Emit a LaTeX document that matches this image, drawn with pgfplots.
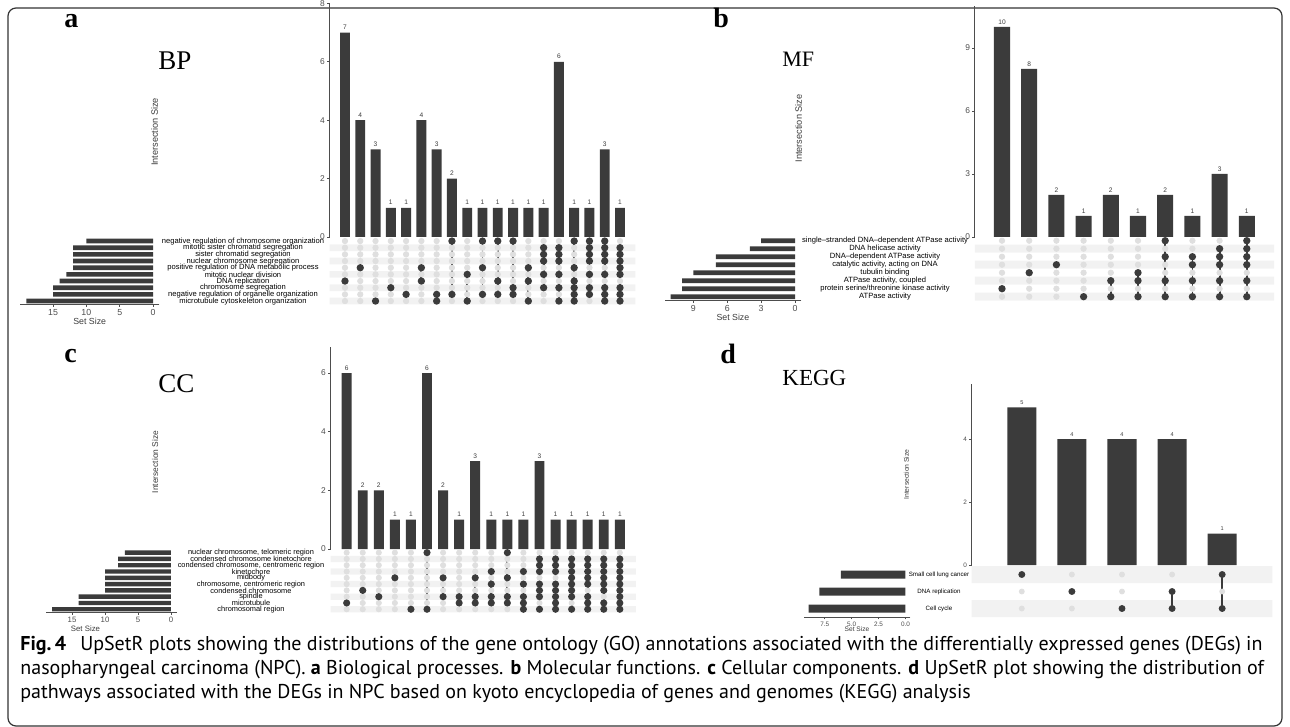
\documentclass[border=0pt]{standalone}
\usepackage{pgfplots}
\pgfplotsset{compat=1.18}
\usepackage{fontspec}
\setmainfont{Liberation Sans}
\newfontfamily\capfont{PT Sans}
\newfontfamily\titlefont{Liberation Serif}
\definecolor{dark}{HTML}{3B3B3B}
\definecolor{ticklab}{HTML}{4D4D4D}
\definecolor{lightdot}{HTML}{DFDFDF}
\definecolor{stripe}{HTML}{F2F2F2}
\definecolor{framecol}{HTML}{333333}
\newcommand{\fs}[1]{\fontsize{#1}{#1}\selectfont}
\pgfplotsset{
  barax/.style={
    scale only axis, ybar, ymin=0, xmin=0,
    axis x line=none, axis y line*=left,
    axis line style={draw=ticklab, line width=0.35pt},
    tick align=outside, major tick length=1.2pt,
    ytick style={draw=ticklab, line width=0.35pt},
    /pgf/number format/assume math mode=true,
    yticklabel style={font=\fs{4.2}, text=ticklab, inner sep=1pt},
    ylabel={Intersection Size},
    ylabel style={font=\fs{4.6}, text=dark, anchor=center},
    nodes near coords,
    nodes near coords style={font=\fs{3.3}, text=dark, inner sep=1.2pt},
    clip=false,
  },
  matax/.style={
    scale only axis, xmin=0, ymin=0.5,
    axis line style={draw=none}, major tick length=0pt, tick style={draw=none},
    xtick=\empty,
    yticklabel style={anchor=center, inner sep=0pt, text=black},
    clip=false,
  },
  setax/.style={
    scale only axis, xbar, x dir=reverse, ymin=0.5,
    axis x line*=bottom, axis y line=none,
    axis line style={draw=ticklab, line width=0.35pt},
    tick align=outside, major tick length=1.2pt,
    xtick style={draw=ticklab, line width=0.35pt},
    /pgf/number format/assume math mode=true,
    xticklabel style={font=\fs{4.4}, text=ticklab, inner sep=1pt},
    xlabel={Set Size},
    xlabel style={font=\fs{4.4}, text=dark, inner sep=0pt},
    ytick=\empty,
  },
  lightdots/.style={only marks, mark=*, mark size=#1, color=lightdot},
  col/.style={color=dark, line width=0.9pt, mark=*, mark size=#1},
  stripe/.style={fill=stripe, draw=none},
}
\begin{document}
\begin{tikzpicture}[x=0.5pt,y=-0.5pt]
% anchor points (pixels from top-left of the figure)
\coordinate (Abar) at (329.7,237);
\coordinate (Amat) at (329.7,304.4);
\coordinate (Aset) at (20,304.4);
\coordinate (Bbar) at (974.8,237);
\coordinate (Bmat) at (974.8,300.7);
\coordinate (Bset) at (664.5,300.7);
\coordinate (Cbar) at (330.6,549);
\coordinate (Cmat) at (330.6,612.4);
\coordinate (Cset) at (46.3,612.4);
\coordinate (Dbar) at (971.7,565);
\coordinate (Dmat) at (971.7,617);
\coordinate (Dset) at (803.7,617);
% frame
\draw[framecol, line width=0.6pt, rounded corners=4pt] (8,8) rectangle (1282,726);

% ================= Panel a =================
\begin{axis}[barax, at={(Abar)}, anchor=south west,
  width=152.8pt, height=116.8pt, xmax=20, ymax=8, ytick={0,2,4,6,8}, bar width=0.65,
  ylabel style={at={(axis description cs:-0.573,0.45)}}]
\addplot[fill=dark, draw=none] coordinates {(1,7)(2,4)(3,3)(4,1)(5,1)(6,4)(7,3)(8,2)(9,1)(10,1)(11,1)(12,1)(13,1)(14,1)(15,6)(16,1)(17,1)(18,3)(19,1)};
\end{axis}
\begin{axis}[matax, at={(Amat)}, anchor=south west, width=152.8pt, height=33.35pt,
  xmax=20, ymax=10.5, ytick={1,...,10},
  yticklabels={microtubule cytoskeleton organization, negative regulation of organelle organization, chromosome segregation, DNA replication, mitotic nuclear division, positive regulation of DNA metabolic process, nuclear chromosome segregation, sister chromatid segregation, mitotic sister chromatid segregation, negative regulation of chromosome organization},
  yticklabel style={font=\fs{3.8}, xshift=-43.35pt}]
\addplot[stripe] coordinates {(0,0.5)(20,0.5)(20,1.5)(0,1.5)(0,0.5)};
\addplot[stripe] coordinates {(0,2.5)(20,2.5)(20,3.5)(0,3.5)(0,2.5)};
\addplot[stripe] coordinates {(0,4.5)(20,4.5)(20,5.5)(0,5.5)(0,4.5)};
\addplot[stripe] coordinates {(0,6.5)(20,6.5)(20,7.5)(0,7.5)(0,6.5)};
\addplot[stripe] coordinates {(0,8.5)(20,8.5)(20,9.5)(0,9.5)(0,8.5)};
\pgfplotsinvokeforeach{1,...,10}{\addplot[lightdots=1.35pt] coordinates {(1,#1)(2,#1)(3,#1)(4,#1)(5,#1)(6,#1)(7,#1)(8,#1)(9,#1)(10,#1)(11,#1)(12,#1)(13,#1)(14,#1)(15,#1)(16,#1)(17,#1)(18,#1)(19,#1)};}
\addplot[col=1.35pt] coordinates {(1,4)};
\addplot[col=1.35pt] coordinates {(2,6)};
\addplot[col=1.35pt] coordinates {(3,1)};
\addplot[col=1.35pt] coordinates {(4,3)};
\addplot[col=1.35pt] coordinates {(5,2)};
\addplot[col=1.35pt] coordinates {(6,6)(6,4)};
\addplot[col=1.35pt] coordinates {(7,2)(7,1)};
\addplot[col=1.35pt] coordinates {(8,10)(8,2)};
\addplot[col=1.35pt] coordinates {(9,5)(9,1)};
\addplot[col=1.35pt] coordinates {(10,10)(10,6)(10,2)};
\addplot[col=1.35pt] coordinates {(11,10)(11,4)(11,2)};
\addplot[col=1.35pt] coordinates {(12,10)(12,3)(12,2)};
\addplot[col=1.35pt] coordinates {(13,6)(13,4)(13,1)};
\addplot[col=1.35pt] coordinates {(14,9)(14,8)(14,7)(14,5)(14,3)};
\addplot[col=1.35pt] coordinates {(15,9)(15,8)(15,7)(15,5)(15,3)(15,1)};
\addplot[col=1.35pt] coordinates {(16,10)(16,6)(16,4)(16,3)(16,2)(16,1)};
\addplot[col=1.35pt] coordinates {(17,10)(17,9)(17,8)(17,7)(17,5)(17,3)(17,2)};
\addplot[col=1.35pt] coordinates {(18,10)(18,9)(18,8)(18,7)(18,5)(18,3)(18,2)(18,1)};
\addplot[col=1.35pt] coordinates {(19,9)(19,8)(19,7)(19,6)(19,5)(19,3)(19,2)(19,1)};
\end{axis}
\begin{axis}[setax, at={(Aset)}, anchor=south west, width=69.7pt, height=33.35pt,
  xmin=-0.95, xmax=19.95, ymax=10.5, xtick={0,5,10,15}, bar width=0.7]
\addplot[fill=dark, draw=none] coordinates {(19,1)(15,2)(15,3)(14,4)(13,5)(12,6)(12,7)(12,8)(12,9)(10,10)};
\end{axis}

% ================= Panel b =================
\begin{axis}[barax, at={(Bbar)}, anchor=south west,
  width=149.6pt, height=115.5pt, xmax=11, ymax=11, ytick={0,3,6,9}, bar width=0.59,
  ylabel style={at={(axis description cs:-0.589,0.47)}}]
\addplot[fill=dark, draw=none] coordinates {(1,10)(2,8)(3,2)(4,1)(5,2)(6,1)(7,2)(8,1)(9,3)(10,1)};
\end{axis}
\begin{axis}[matax, at={(Bmat)}, anchor=south west, width=149.6pt, height=32pt,
  xmax=11, ymax=8.5, ytick={1,...,8},
  yticklabels={ATPase activity, protein serine/threonine kinase activity, {ATPase activity, coupled}, tubulin binding, {catalytic activity, acting on DNA}, DNA--dependent ATPase activity, DNA helicase activity, single--stranded DNA--dependent ATPase activity},
  yticklabel style={font=\fs{3.8}, xshift=-44.9pt}]
\addplot[stripe] coordinates {(0,0.5)(11,0.5)(11,1.5)(0,1.5)(0,0.5)};
\addplot[stripe] coordinates {(0,2.5)(11,2.5)(11,3.5)(0,3.5)(0,2.5)};
\addplot[stripe] coordinates {(0,4.5)(11,4.5)(11,5.5)(0,5.5)(0,4.5)};
\addplot[stripe] coordinates {(0,6.5)(11,6.5)(11,7.5)(0,7.5)(0,6.5)};
\pgfplotsinvokeforeach{1,...,8}{\addplot[lightdots=1.35pt] coordinates {(1,#1)(2,#1)(3,#1)(4,#1)(5,#1)(6,#1)(7,#1)(8,#1)(9,#1)(10,#1)};}
\addplot[col=1.35pt] coordinates {(1,2)};
\addplot[col=1.35pt] coordinates {(2,4)};
\addplot[col=1.35pt] coordinates {(3,5)};
\addplot[col=1.35pt] coordinates {(4,1)};
\addplot[col=1.35pt] coordinates {(5,3)(5,1)};
\addplot[col=1.35pt] coordinates {(6,4)(6,3)(6,1)};
\addplot[col=1.35pt] coordinates {(7,8)(7,6)(7,3)(7,1)};
\addplot[col=1.35pt] coordinates {(8,6)(8,5)(8,3)(8,1)};
\addplot[col=1.35pt] coordinates {(9,7)(9,6)(9,5)(9,3)(9,1)};
\addplot[col=1.35pt] coordinates {(10,8)(10,7)(10,6)(10,5)(10,3)(10,1)};
\end{axis}
\begin{axis}[setax, at={(Bset)}, anchor=south west, width=68.4pt, height=32pt,
  xmin=-0.55, xmax=11.55, ymax=8.5, xtick={0,3,6,9}, bar width=0.59]
\addplot[fill=dark, draw=none] coordinates {(11,1)(10,2)(10,3)(9,4)(7,5)(7,6)(4,7)(3,8)};
\end{axis}

% ================= Panel c =================
\begin{axis}[barax, at={(Cbar)}, anchor=south west,
  width=152.65pt, height=101.2pt, xmax=19, ymax=6.9, ytick={0,2,4,6}, bar width=0.62,
  ylabel style={at={(axis description cs:-0.575,0.43)}, font=\fs{4.2}}]
\addplot[fill=dark, draw=none] coordinates {(1,6)(2,2)(3,2)(4,1)(5,1)(6,6)(7,2)(8,1)(9,3)(10,1)(11,1)(12,1)(13,3)(14,1)(15,1)(16,1)(17,1)(18,1)};
\end{axis}
\begin{axis}[matax, at={(Cmat)}, anchor=south west, width=152.65pt, height=31.45pt,
  xmax=19, ymax=10.5, ytick={1,...,10},
  yticklabels={chromosomal region, microtubule, spindle, condensed chromosome, {chromosome, centromeric region}, midbody, kinetochore, {condensed chromosome, centromeric region}, condensed chromosome kinetochore, {nuclear chromosome, telomeric region}},
  yticklabel style={font=\fs{3.7}, xshift=-39.8pt}]
\addplot[stripe] coordinates {(0,0.5)(19,0.5)(19,1.5)(0,1.5)(0,0.5)};
\addplot[stripe] coordinates {(0,2.5)(19,2.5)(19,3.5)(0,3.5)(0,2.5)};
\addplot[stripe] coordinates {(0,4.5)(19,4.5)(19,5.5)(0,5.5)(0,4.5)};
\addplot[stripe] coordinates {(0,6.5)(19,6.5)(19,7.5)(0,7.5)(0,6.5)};
\addplot[stripe] coordinates {(0,8.5)(19,8.5)(19,9.5)(0,9.5)(0,8.5)};
\pgfplotsinvokeforeach{1,...,10}{\addplot[lightdots=1.3pt] coordinates {(1,#1)(2,#1)(3,#1)(4,#1)(5,#1)(6,#1)(7,#1)(8,#1)(9,#1)(10,#1)(11,#1)(12,#1)(13,#1)(14,#1)(15,#1)(16,#1)(17,#1)(18,#1)};}
\addplot[col=1.3pt] coordinates {(1,2)};
\addplot[col=1.3pt] coordinates {(2,4)};
\addplot[col=1.3pt] coordinates {(3,3)};
\addplot[col=1.3pt] coordinates {(4,6)};
\addplot[col=1.3pt] coordinates {(5,1)};
\addplot[col=1.3pt] coordinates {(6,10)(6,1)};
\addplot[col=1.3pt] coordinates {(7,6)(7,3)};
\addplot[col=1.3pt] coordinates {(8,3)(8,2)};
\addplot[col=1.3pt] coordinates {(9,6)(9,3)(9,2)};
\addplot[col=1.3pt] coordinates {(10,7)(10,5)(10,3)(10,2)};
\addplot[col=1.3pt] coordinates {(11,10)(11,6)(11,3)(11,2)};
\addplot[col=1.3pt] coordinates {(12,7)(12,5)(12,3)(12,2)(12,1)};
\addplot[col=1.3pt] coordinates {(13,9)(13,8)(13,7)(13,5)(13,4)(13,3)(13,1)};
\addplot[col=1.3pt] coordinates {(14,9)(14,8)(14,7)(14,5)(14,4)(14,3)(14,2)(14,1)};
\addplot[col=1.3pt] coordinates {(15,9)(15,8)(15,7)(15,6)(15,5)(15,4)(15,3)(15,1)};
\addplot[col=1.3pt] coordinates {(16,9)(16,8)(16,7)(16,6)(16,5)(16,3)(16,2)(16,1)};
\addplot[col=1.3pt] coordinates {(17,9)(17,8)(17,7)(17,6)(17,5)(17,4)(17,2)(17,1)};
\addplot[col=1.3pt] coordinates {(18,9)(18,8)(18,7)(18,6)(18,5)(18,4)(18,3)(18,2)(18,1)};
\end{axis}
\begin{axis}[setax, at={(Cset)}, anchor=south west, width=65.3pt, height=31.45pt,
  xmin=-0.9, xmax=18.9, ymax=10.5, xtick={0,5,10,15}, bar width=0.7,
  xticklabel style={font=\fs{3.9}}, xlabel style={font=\fs{3.9}, at={(axis description cs:0.3,0)}, anchor=north, yshift=-6.5pt}]
\addplot[fill=dark, draw=none] coordinates {(18,1)(14,2)(14,3)(10,4)(10,5)(10,6)(10,7)(8,8)(8,9)(7,10)};
\end{axis}

% ================= Panel d =================
\begin{axis}[barax, at={(Dbar)}, anchor=south west,
  width=150.3pt, height=90.56pt, xmax=6, ymax=5.75, ytick={0,2,4}, bar width=0.58,
  yticklabel style={font=\fs{3.2}},
  nodes near coords style={font=\fs{2.8}},
  ylabel style={at={(axis description cs:-0.217,0.5)}, font=\fs{3.4}}]
\addplot[fill=dark, draw=none] coordinates {(1,5)(2,4)(3,4)(4,4)(5,1)};
\end{axis}
\begin{axis}[matax, at={(Dmat)}, anchor=south west, width=150.3pt, height=25.5pt,
  xmax=6, ymax=3.5, ytick={1,2,3},
  yticklabels={Cell cycle, DNA replication, Small cell lung cancer},
  yticklabel style={font=\fs{3.1}, xshift=-16.35pt}]
\addplot[stripe] coordinates {(0,0.5)(6,0.5)(6,1.5)(0,1.5)(0,0.5)};
\addplot[stripe] coordinates {(0,2.5)(6,2.5)(6,3.5)(0,3.5)(0,2.5)};
\pgfplotsinvokeforeach{1,2,3}{\addplot[lightdots=1.25pt] coordinates {(1,#1)(2,#1)(3,#1)(4,#1)(5,#1)};}
\addplot[col=1.25pt] coordinates {(1,3)};
\addplot[col=1.25pt] coordinates {(2,2)};
\addplot[col=1.25pt] coordinates {(3,1)};
\addplot[col=1.25pt] coordinates {(4,2)(4,1)};
\addplot[col=1.25pt] coordinates {(5,3)(5,1)};
\end{axis}
\begin{axis}[setax, at={(Dset)}, anchor=south west, width=53.3pt, height=25.5pt,
  xmin=-0.45, xmax=9.45, ymax=3.5, xtick={0,2.5,5,7.5}, xticklabels={0.0,2.5,5.0,7.5}, bar width=0.47,
  xticklabel style={font=\fs{3.2}}, xlabel style={font=\fs{3.3}, at={(axis description cs:0.5,0)}, anchor=north, yshift=-4.6pt}]
\addplot[fill=dark, draw=none] coordinates {(9,1)(8,2)(6,3)};
\end{axis}

% ================= titles =================
\node[anchor=base west, inner sep=0, font=\titlefont\bfseries\fs{14}] at (64,28) {a};
\node[anchor=base west, inner sep=0, font=\titlefont\fs{13.5}] at (158,70) {BP};
\node[anchor=base west, inner sep=0, font=\titlefont\bfseries\fs{14}] at (713,28) {b};
\node[anchor=base west, inner sep=0, font=\titlefont\fs{11}] at (782,67) {MF};
\node[anchor=base west, inner sep=0, font=\titlefont\bfseries\fs{14}] at (64,362) {c};
\node[anchor=base west, inner sep=0, font=\titlefont\fs{13.5}] at (158,392) {CC};
\node[anchor=base west, inner sep=0, font=\titlefont\bfseries\fs{14}] at (720,363) {d};
\node[anchor=base west, inner sep=0, font=\titlefont\fs{11.5}] at (782,385) {KEGG};

% ================= caption =================
\node[anchor=base west, inner sep=0, font=\capfont\fs{10}] at (20,650) {\textbf{Fig.\,4}\hspace{0.7em}UpSetR plots showing the distributions of the gene ontology (GO) annotations associated with the differentially expressed genes (DEGs) in};
\node[anchor=base west, inner sep=0, font=\capfont\fs{10}] at (20,674) {nasopharyngeal carcinoma (NPC). \textbf{a} Biological processes. \textbf{b} Molecular functions. \textbf{c} Cellular components. \textbf{d} UpSetR plot showing the distribution of};
\node[anchor=base west, inner sep=0, font=\capfont\fs{10}] at (20,698) {pathways associated with the DEGs in NPC based on kyoto encyclopedia of genes and genomes (KEGG) analysis};

\pgfresetboundingbox
\path (0,0) rectangle (1290,727);
\end{tikzpicture}
\end{document}
